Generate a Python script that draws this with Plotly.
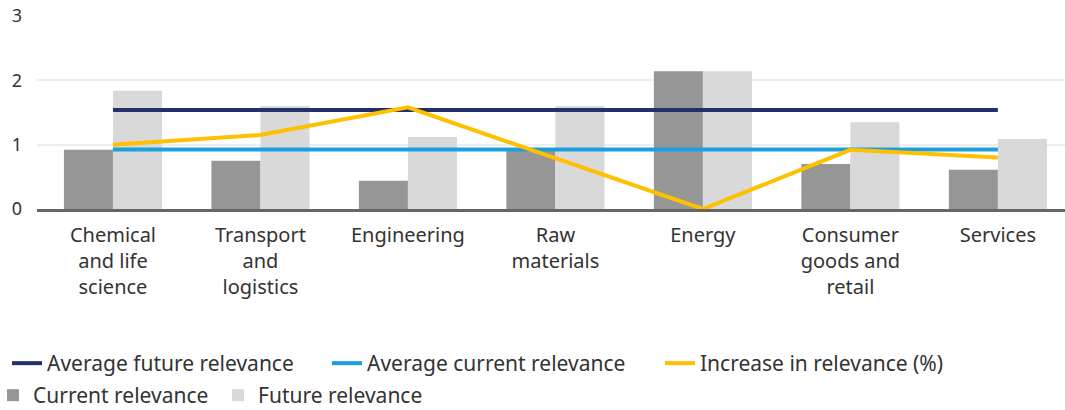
import plotly.graph_objects as go

categories = ["Chemical<br>and life<br>science", "Transport<br>and<br>logistics", "Engineering",
              "Raw<br>materials", "Energy", "Consumer<br>goods and<br>retail", "Services"]
current_relevance = [0.92, 0.75, 0.44, 0.94, 2.14, 0.70, 0.61]
future_relevance = [1.84, 1.60, 1.12, 1.60, 2.14, 1.35, 1.09]
avg_future = [1.54] * 7
avg_current = [0.925] * 7
increase = [1.00, 1.15, 1.58, 0.79, 0.00, 0.92, 0.80]

FONT = "Noto Sans"
TXT = "#333333"
FS = 21

L, PW, T, PH = 37, 1028, 16, 193


def px_x(px):
    return (px - L) / PW


def px_y(py):
    return -(py - (T + PH)) / PH


fig = go.Figure()
fig.add_trace(go.Bar(x=categories, y=current_relevance, name="Current relevance",
                     marker=dict(color="#969696", line=dict(width=0)), legend="legend4"))
fig.add_trace(go.Bar(x=categories, y=future_relevance, name="Future relevance",
                     marker=dict(color="#d9d9d9", line=dict(width=0)), legend="legend5"))
fig.add_trace(go.Scatter(x=categories, y=avg_future, mode="lines", name="Average future relevance",
                         line=dict(color="#23306b", width=4), legend="legend"))
fig.add_trace(go.Scatter(x=categories, y=avg_current, mode="lines", name="Average current relevance",
                         line=dict(color="#1c9fdc", width=4), legend="legend2"))
fig.add_trace(go.Scatter(x=categories, y=increase, mode="lines", name="Increase in relevance (%)",
                         line=dict(color="#ffc000", width=4), legend="legend3"))


def leg(px, py):
    return dict(orientation="h", x=px_x(px), xanchor="left", y=px_y(py), yanchor="top",
                font=dict(family=FONT, size=FS, color=TXT), bgcolor="rgba(0,0,0,0)",
                itemwidth=30)


fig.update_layout(
    width=1065, height=410,
    margin=dict(l=L, r=0, t=T, b=410 - T - PH, autoexpand=False),
    paper_bgcolor="white", plot_bgcolor="white",
    font=dict(family=FONT, size=FS, color=TXT),
    barmode="group", bargap=0.335, bargroupgap=0,
    showlegend=True,
    legend=leg(7, 343),
    legend2=leg(327, 343),
    legend3=leg(660, 343),
    legend4=leg(-7, 375),
    legend5=leg(218, 375),
    xaxis=dict(range=[-0.515, 6.455], showgrid=False, showline=True, linecolor="#666666", linewidth=3,
               ticks="outside", ticklen=6, tickcolor="rgba(0,0,0,0)",
               tickfont=dict(family=FONT, size=20, color=TXT)),
    yaxis=dict(range=[0, 3], tickvals=[0, 1, 2, 3], showgrid=True, gridcolor="#eeeeee", gridwidth=2,
               zeroline=False, showline=False, ticks="", ticklabelstandoff=14,
               tickfont=dict(family=FONT, size=18, color=TXT)),
)

fig.write_html("out.html")
